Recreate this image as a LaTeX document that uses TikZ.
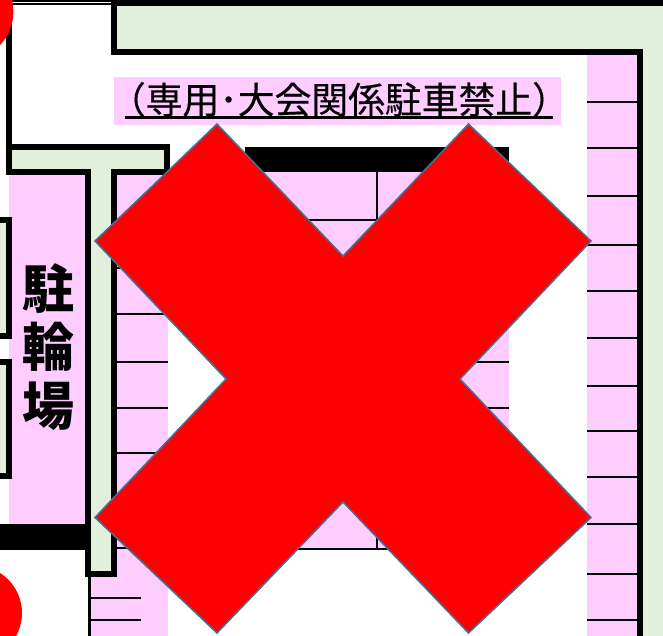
\documentclass[tikz,border=0pt]{standalone}
\usepackage{fontspec}
\newfontfamily\cjk{Noto Sans CJK JP}
\newfontfamily\cjktitle[FakeBold=0.4]{Noto Sans CJK JP}
\definecolor{pinkfill}{HTML}{FFCCFF}
\definecolor{greenfill}{HTML}{E2EFDA}
\definecolor{crossedge}{HTML}{41719C}
\definecolor{crossred}{HTML}{FF0000}
\tikzset{
  pinkarea/.style={fill=pinkfill,draw=none},
  greenarea/.style={fill=greenfill,draw=none},
  wall/.style={fill=black,draw=none},
  stallline/.style={draw=black,line width=2pt},
  bigcross/.style={fill=crossred,draw=crossedge,line width=1.5pt,line join=miter},
  roundmark/.style={fill=crossred,draw=none},
  titletext/.style={font=\cjktitle\fontsize{36.8pt}{38pt}\selectfont,inner sep=0pt,anchor=base},
  bikelabel/.style={font=\cjk\bfseries\fontsize{52pt}{58.5pt}\selectfont,align=center,inner sep=0pt}
}
\begin{document}
\begin{tikzpicture}[x=1pt,y=-1pt]
\useasboundingbox (0,0) rectangle (663,636);
\fill[white] (0,0) rectangle (663,636);
% green road, top and right
\path[greenarea] (117,6) rectangle (663,49);
\path[greenarea] (643,6) rectangle (663,636);
% right stalls
\path[pinkarea] (587,55) rectangle (637,636);
\foreach \yy in {102,148,196,245,291,338,386,431,477,524,574,620}
  \draw[stallline] (587,\yy) -- (637,\yy);
% walls top/right
\path[wall] (111,0) rectangle (663,6);
\path[wall] (111,0) rectangle (117,55);
\path[wall] (111,49) rectangle (643,55);
\path[wall] (637,49) rectangle (643,636);
% top-left thin double line and left wall
\path[wall] (12,0) rectangle (111,2);
\path[wall] (12,3) rectangle (111,5);
\path[wall] (6,0) rectangle (12,175);
% T-shaped road
\path[pinkarea] (9,175) rectangle (85,524);
\path[pinkarea] (117,175) rectangle (168,577);
\path[pinkarea] (90,577) rectangle (168,636);
\path[wall] (6,144) rectangle (170,150);
\path[wall] (164,144) rectangle (170,175);
\path[wall] (6,169) rectangle (91,175);
\path[wall] (111,169) rectangle (170,175);
\path[greenarea] (12,150) rectangle (164,169);
\path[wall] (85,169) rectangle (117,577);
\path[greenarea] (91,150) rectangle (111,571);
% black band and thin wall
\path[wall] (0,524) rectangle (85,550);
\path[wall] (88,577) rectangle (90.5,636);
% left boxes
\path[wall] (0,217) rectangle (12,339);
\path[greenarea] (0,223) rectangle (6,333);
\path[wall] (0,359) rectangle (12,479);
\path[greenarea] (0,365) rectangle (6,473);
% left stalls
\foreach \yy in {222,268,314,362,408,453,500,548}
  \draw[stallline] (117,\yy) -- (168,\yy);
\foreach \yy in {598,620}
  \draw[stallline] (90,\yy) -- (141,\yy);
% centre stalls
\path[pinkarea] (245,172) rectangle (509,549);
\path[wall] (245,147) rectangle (509,172);
\draw[stallline] (245,220) -- (378,220);
\draw[stallline] (377,172) -- (377,220);
\draw[stallline] (377,362) -- (509,362);
\draw[stallline] (377,408) -- (509,408);
\draw[stallline] (377,500) -- (377,549);
\draw[stallline] (245,549) -- (509,549);
% round marks
\fill[roundmark] (-34,12) circle (47.4);
\fill[roundmark] (-25.4,613) circle (47.4);
% title
\path[pinkarea] (114,77) rectangle (561,125);
\node[titletext] (title) at (339,113.5) {（専用･大会関係駐車禁止）};
\path[wall] (125,115.7) rectangle (553,119);
% bicycle parking label
\node[bikelabel] (bike) at (48,347) {駐\\輪\\場};
% cross
\draw[bigcross] (217,124) -- (343,256) -- (468.5,124) -- (591,241) -- (460,379)
  -- (591,517.5) -- (468.5,633) -- (343,502) -- (217,633) -- (95,517.5) -- (226,379)
  -- (95,241) -- cycle;
\end{tikzpicture}
\end{document}
